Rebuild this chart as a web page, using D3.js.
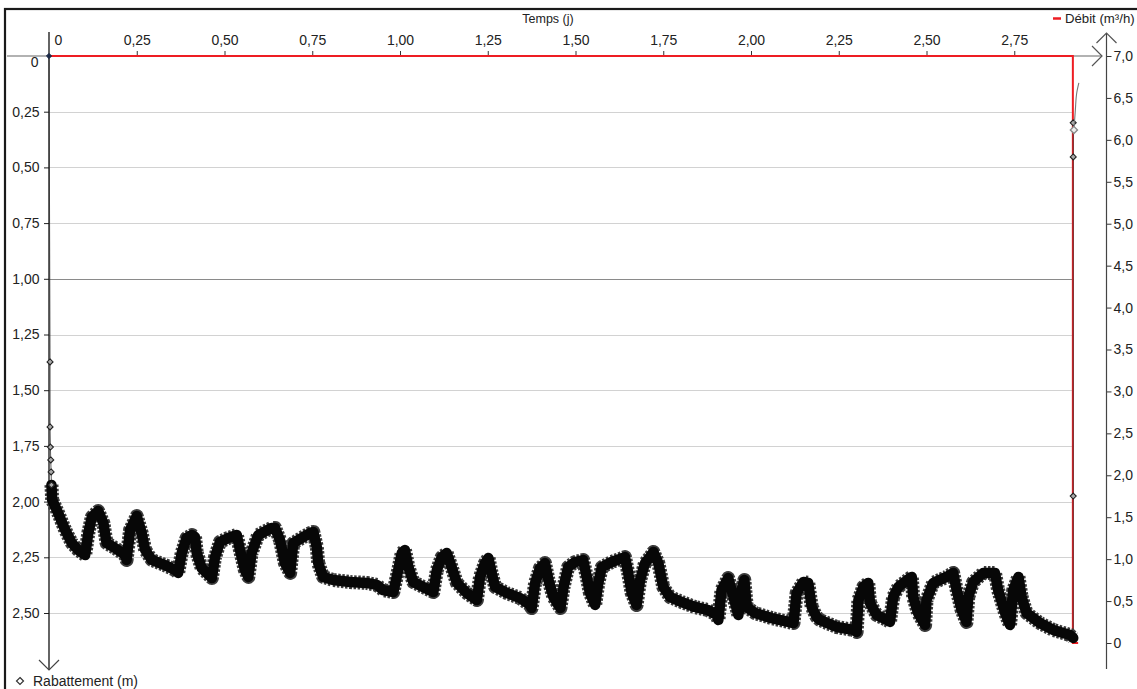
<!DOCTYPE html>
<html>
<head>
<meta charset="utf-8">
<script src="https://cdn.jsdelivr.net/npm/d3@7"></script>
<style>
  body { margin: 0; background: #fff; }
  svg { display: block; }
  text { font-family: "Liberation Sans", Arial, sans-serif; fill: #222; }
</style>
</head>
<body>
<svg id="chart" width="1137" height="689"></svg>
<script>
// Axis ticks
const timeTicks = [0, 0.25, 0.5, 0.75, 1, 1.25, 1.5, 1.75, 2, 2.25, 2.5, 2.75];
const drawdownTicks = [0, 0.25, 0.5, 0.75, 1, 1.25, 1.5, 1.75, 2, 2.25, 2.5];
const flowTicks = [0, 0.5, 1, 1.5, 2, 2.5, 3, 3.5, 4, 4.5, 5, 5.5, 6, 6.5, 7];

// Rabattement (m) : first sparse readings after pump start
const earlyT = [0.003, 0.003, 0.004, 0.005, 0.006, 0.007];
const earlyS = [1.373, 1.665, 1.755, 1.813, 1.867, 1.925];

// Rabattement (m) : dense logger record during pumping
const mainT = [0.007, 0.009, 0.026, 0.046, 0.065, 0.083, 0.103, 0.112, 0.122, 0.140, 0.155, 0.164, 0.188, 0.217, 0.221,
  0.231, 0.250, 0.264, 0.274, 0.293, 0.330, 0.359, 0.368, 0.378, 0.392, 0.407, 0.416, 0.421, 0.435, 0.464,
  0.473, 0.487, 0.511, 0.535, 0.544, 0.558, 0.568, 0.577, 0.596, 0.634, 0.644, 0.658, 0.672, 0.687, 0.696,
  0.720, 0.744, 0.753, 0.763, 0.767, 0.781, 0.810, 0.858, 0.905, 0.934, 0.952, 0.981, 0.995, 1.005, 1.014,
  1.024, 1.038, 1.066, 1.095, 1.105, 1.119, 1.133, 1.147, 1.162, 1.190, 1.219, 1.228, 1.242, 1.252, 1.261,
  1.271, 1.304, 1.342, 1.370, 1.375, 1.385, 1.399, 1.413, 1.423, 1.437, 1.457, 1.466, 1.479, 1.499, 1.522,
  1.532, 1.541, 1.556, 1.565, 1.575, 1.603, 1.641, 1.650, 1.660, 1.674, 1.684, 1.698, 1.712, 1.722, 1.736,
  1.750, 1.769, 1.803, 1.840, 1.878, 1.902, 1.907, 1.916, 1.935, 1.950, 1.964, 1.973, 1.981, 1.988, 2.011,
  2.059, 2.106, 2.121, 2.130, 2.149, 2.163, 2.173, 2.187, 2.196, 2.244, 2.291, 2.301, 2.306, 2.320, 2.334,
  2.339, 2.358, 2.387, 2.396, 2.405, 2.420, 2.453, 2.458, 2.462, 2.476, 2.496, 2.500, 2.519, 2.557, 2.576,
  2.586, 2.600, 2.614, 2.619, 2.633, 2.662, 2.695, 2.704, 2.724, 2.738, 2.747, 2.762, 2.771, 2.785, 2.823,
  2.861, 2.909, 2.918];
const mainS = [1.925, 1.993, 2.051, 2.127, 2.186, 2.217, 2.240, 2.141, 2.069, 2.042, 2.096, 2.186, 2.208, 2.240, 2.262,
  2.127, 2.065, 2.141, 2.217, 2.262, 2.285, 2.307, 2.320, 2.231, 2.163, 2.150, 2.159, 2.231, 2.298, 2.343,
  2.249, 2.181, 2.163, 2.150, 2.217, 2.307, 2.338, 2.231, 2.150, 2.118, 2.118, 2.172, 2.276, 2.320, 2.186,
  2.163, 2.141, 2.136, 2.204, 2.276, 2.338, 2.352, 2.361, 2.365, 2.374, 2.397, 2.406, 2.307, 2.231, 2.217,
  2.294, 2.361, 2.383, 2.406, 2.307, 2.249, 2.231, 2.294, 2.365, 2.410, 2.442, 2.338, 2.276, 2.253, 2.320,
  2.383, 2.410, 2.433, 2.464, 2.478, 2.365, 2.298, 2.276, 2.352, 2.428, 2.478, 2.383, 2.294, 2.271, 2.262,
  2.338, 2.410, 2.464, 2.365, 2.294, 2.271, 2.249, 2.320, 2.410, 2.464, 2.352, 2.276, 2.249, 2.226, 2.276,
  2.383, 2.428, 2.451, 2.473, 2.487, 2.509, 2.531, 2.397, 2.343, 2.428, 2.509, 2.397, 2.352, 2.473, 2.500,
  2.523, 2.540, 2.545, 2.410, 2.361, 2.365, 2.473, 2.518, 2.531, 2.563, 2.576, 2.585, 2.442, 2.383, 2.365,
  2.455, 2.509, 2.531, 2.540, 2.428, 2.383, 2.343, 2.338, 2.428, 2.500, 2.554, 2.442, 2.365, 2.338, 2.320,
  2.397, 2.487, 2.540, 2.428, 2.361, 2.320, 2.320, 2.397, 2.500, 2.554, 2.397, 2.338, 2.428, 2.500, 2.545,
  2.576, 2.599, 2.612];

// Rabattement (m) : readings right after pump stop
const recoveryT = [2.918, 2.918, 2.918];
const recoveryS = [1.975, 0.453, 0.300];
// Remontée (m) : recovery trend after stop
const curveT = [2.920, 2.924, 2.928, 2.934];
const curveS = [0.332, 0.244, 0.166, 0.121];

// Débit (m³/h)
const flowT = [0, 2.917, 2.917, 2.932];
const flowQ = [7, 7, 0, 0];

const svg = d3.select("#chart");
const x = d3.scaleLinear().domain([0, 3]).range([49, 1102]);
const y = d3.scaleLinear().domain([0, 2.75]).range([56, 668.7]);
const yR = d3.scaleLinear().domain([0, 7]).range([643, 56]);

const frFmt = (d, digits) => d === 0 ? "0" : d.toFixed(digits).replace(".", ",");
const tEnd = mainT[mainT.length - 1];

// frame
svg.append("rect").attr("x", 5).attr("y", 9).attr("width", 1140).attr("height", 700)
  .attr("fill", "none").attr("stroke", "#1a1a1a").attr("stroke-width", 2.2);

// horizontal grid
svg.append("g").selectAll("line").data(drawdownTicks.filter(d => d > 0)).join("line")
  .attr("x1", x(0)).attr("x2", x(tEnd))
  .attr("y1", d => Math.round(y(d)) + 0.5).attr("y2", d => Math.round(y(d)) + 0.5)
  .attr("stroke", d => d === 1 ? "#8a8a8a" : "#d2d2d2").attr("stroke-width", 1);

// top time axis
const gx = svg.append("g").attr("transform", `translate(0,${y(0)})`)
  .call(d3.axisTop(x).tickValues(timeTicks).tickSize(5).tickPadding(6.5).tickFormat(d => frFmt(d, 2)));
gx.select(".domain").remove();
gx.selectAll(".tick line").attr("stroke", "#333");
gx.selectAll(".tick text").attr("font-size", 14).attr("fill", "#222");
gx.selectAll(".tick").filter(d => d === 0).select("line").remove();
gx.selectAll(".tick").filter(d => d === 0).select("text").attr("dx", 9);
svg.append("line").attr("x1", 7).attr("x2", x(3)).attr("y1", y(0)).attr("y2", y(0))
  .attr("stroke", "#666").attr("stroke-width", 1.2);
svg.append("path")
  .attr("d", `M${x(3) - 10},${y(0) - 10}L${x(3)},${y(0)}L${x(3) - 10},${y(0) + 10}`)
  .attr("fill", "none").attr("stroke", "#555").attr("stroke-width", 1.2);

// left drawdown axis
const gy = svg.append("g").attr("transform", `translate(${x(0)},0)`)
  .call(d3.axisLeft(y).tickValues(drawdownTicks).tickSize(5).tickPadding(4.5).tickFormat(d => frFmt(d, 2)));
gy.select(".domain").remove();
gy.selectAll(".tick line").attr("stroke", "#222");
gy.selectAll(".tick text").attr("font-size", 14).attr("fill", "#222");
gy.selectAll(".tick").filter(d => d === 0).select("line").remove();
gy.selectAll(".tick").filter(d => d === 0).select("text").attr("dy", "0.78em").attr("dx", -1);
svg.append("line").attr("x1", x(0)).attr("x2", x(0)).attr("y1", 32).attr("y2", 670)
  .attr("stroke", "#111").attr("stroke-width", 1.3);
svg.append("path")
  .attr("d", `M${x(0) - 10},660L${x(0)},670L${x(0) + 10},660`)
  .attr("fill", "none").attr("stroke", "#444").attr("stroke-width", 1.2);

// right flow axis
const axR = 1106.5;
const gr = svg.append("g").attr("transform", `translate(${axR},0)`)
  .call(d3.axisRight(yR).tickValues(flowTicks).tickSize(5).tickPadding(2).tickFormat(d => frFmt(d, 1)));
gr.select(".domain").remove();
gr.selectAll(".tick line").attr("stroke", "#333");
gr.selectAll(".tick text").attr("font-size", 14).attr("fill", "#222");
svg.append("line").attr("x1", axR).attr("x2", axR).attr("y1", 33).attr("y2", 669)
  .attr("stroke", "#444").attr("stroke-width", 1.2);
svg.append("path")
  .attr("d", `M${axR - 10},43L${axR},33L${axR + 10},43`)
  .attr("fill", "none").attr("stroke", "#555").attr("stroke-width", 1.2);

// Débit series
const flowLine = d3.line().x(d => x(d[0])).y(d => yR(d[1]));
svg.append("path").datum(flowT.map((t, i) => [t, flowQ[i]]))
  .attr("d", flowLine).attr("fill", "none").attr("stroke", "#ee1d23").attr("stroke-width", 2);

// Rabattement series
const diamond = r => `M0,${-r}L${r},0L0,${r}L${-r},0Z`;
const sLine = d3.line().x(d => x(d[0])).y(d => y(d[1]));
const mainPts = mainT.map((t, i) => [t, mainS[i]]);
const earlyPts = earlyT.map((t, i) => [t, earlyS[i]]);
const recPts = recoveryT.map((t, i) => [t, recoveryS[i]]);

// thin connector through the sparse readings
svg.append("path").datum([[0, 0]].concat(earlyPts).concat([mainPts[0]]))
  .attr("d", sLine).attr("fill", "none").attr("stroke", "#333").attr("stroke-width", 0.8);
svg.append("path").datum([mainPts[mainPts.length - 1]].concat(recPts))
  .attr("d", sLine).attr("fill", "none").attr("stroke", "#333").attr("stroke-width", 0.8);

// dense logger band: beaded outer edge of overlapping markers, solid core
svg.append("path").datum(mainPts).attr("d", sLine).attr("fill", "none")
  .attr("stroke", "#3c3c3c").attr("stroke-width", 14).attr("stroke-dasharray", "2.5 1.6")
  .attr("stroke-linejoin", "round");
svg.append("path").datum(mainPts).attr("d", sLine).attr("fill", "none")
  .attr("stroke", "#070707").attr("stroke-width", 10.5).attr("stroke-linejoin", "round").attr("stroke-linecap", "round");

svg.append("g").selectAll("path").data(earlyPts.concat(recPts)).join("path")
  .attr("transform", d => `translate(${x(d[0])},${y(d[1])})`)
  .attr("d", diamond(3)).attr("fill", "#aaa").attr("stroke", "#222").attr("stroke-width", 1.1);

// recovery trend
const cPts = curveT.map((t, i) => [t, curveS[i]]);
svg.append("path").datum(cPts).attr("d", d3.line().curve(d3.curveMonotoneY).x(d => x(d[0])).y(d => y(d[1])))
  .attr("fill", "none").attr("stroke", "#777").attr("stroke-width", 1.1);
svg.append("path").attr("transform", `translate(${x(cPts[0][0])},${y(cPts[0][1])})`)
  .attr("d", diamond(3.6)).attr("fill", "#eee").attr("stroke", "#888").attr("stroke-width", 1.3);

// origin reading
svg.append("path").attr("transform", `translate(${x(0)},${y(0)})`)
  .attr("d", diamond(2.6)).attr("fill", "#1c2a48").attr("stroke", "#1c2a48");

// titles and legends
svg.append("text").attr("x", 548).attr("y", 23).attr("text-anchor", "middle")
  .attr("font-size", 12.5).text("Temps (j)");
svg.append("line").attr("x1", 1053).attr("x2", 1061).attr("y1", 18.5).attr("y2", 18.5)
  .attr("stroke", "#ee1d23").attr("stroke-width", 2.5);
svg.append("text").attr("x", 1065).attr("y", 23).attr("font-size", 13.2).text("Débit (m³/h)");
svg.append("path").attr("transform", "translate(20,681)").attr("d", diamond(3.5))
  .attr("fill", "#fff").attr("stroke", "#333").attr("stroke-width", 1.2);
svg.append("text").attr("x", 33).attr("y", 686).attr("font-size", 14).text("Rabattement (m)");
</script>
</body>
</html>
